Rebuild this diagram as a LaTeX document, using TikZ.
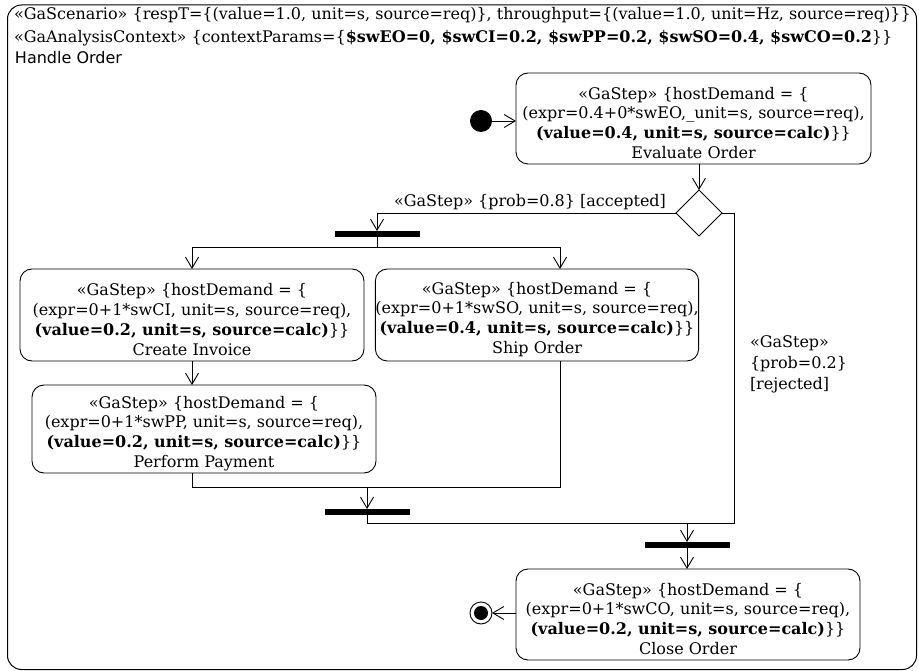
\documentclass[tikz,border=0pt]{standalone}
\usepackage{fontspec}
\setmainfont{DejaVu Serif}
\newfontfamily\hdsans{DejaVu Sans}
\usetikzlibrary{arrows.meta,shapes.geometric}
\newcommand\topgap{\rule{0pt}{21pt}}
\begin{document}
\begin{tikzpicture}[x=1pt,y=-1pt,
  every node/.style={inner sep=0pt, outer sep=0pt},
  txt/.style={font=\fontsize{16}{19.8}\selectfont},
  act/.style={draw, line width=0.9pt, rounded corners=12pt, align=center, txt},
  bar/.style={fill=black, minimum width=85pt, minimum height=6pt},
  flow/.style={line width=0.9pt, -{Straight Barb[length=11pt,width=13pt,line width=0.9pt]}},
  plain/.style={line width=0.9pt}]
\useasboundingbox (0,0) rectangle (919,671);
% frame
\draw[line width=1pt, rounded corners=14pt] (7.5,5) rectangle (916.5,669.5);
\node[txt, anchor=west] (h1) at (14,15) {«GaScenario» \{respT=\{(value=1.0, unit=s, source=req)\}, throughput=\{(value=1.0, unit=Hz, source=req)\}\}};
\node[txt, anchor=west] (h2) at (14,38) {«GaAnalysisContext» \{contextParams=\{\textbf{\$swEO=0, \$swCI=0.2, \$swPP=0.2, \$swSO=0.4, \$swCO=0.2}\}\}};
\node[anchor=west, font=\hdsans\fontsize{16}{18}\selectfont] (h3) at (15,58) {Handle Order};

% nodes
\node[circle, fill=black, minimum size=22pt] (init) at (481,121) {};
\node[act, minimum width=355pt, minimum height=91pt] (eval) at (693.5,118.5)
  {\topgap«GaStep» \{hostDemand = \{\\(expr=0.4+0*swEO,\_unit=s, source=req),\\\textbf{(value=0.4, unit=s, source=calc)}\}\}\\Evaluate Order};
\node[diamond, aspect=1, draw, line width=0.9pt, minimum size=46pt] (dec) at (699,213) {};
\node[txt, anchor=base east] (acc) at (666,207) {«GaStep» \{prob=0.8\} [accepted]};
\node[bar] (fork) at (377,234) {};
\node[act, minimum width=344pt, minimum height=92pt] (ci) at (192,315)
  {\topgap«GaStep» \{hostDemand = \{\\(expr=0+1*swCI, unit=s, source=req),\\\textbf{(value=0.2, unit=s, source=calc)}\}\}\\Create Invoice};
\node[act, minimum width=320pt, minimum height=92pt] (so) at (537,315)
  {\topgap«GaStep» \{hostDemand = \{\\(expr=0+1*swSO, unit=s, source=req),\\\textbf{(value=0.4, unit=s, source=calc)}\}\}\\Ship Order};
\node[act, minimum width=344pt, minimum height=88pt] (pp) at (204,429)
  {\topgap«GaStep» \{hostDemand = \{\\(expr=0+1*swPP, unit=s, source=req),\\\textbf{(value=0.2, unit=s, source=calc)}\}\}\\Perform Payment};
\node[bar] (join1) at (367,512) {};
\node[bar] (join2) at (687,545) {};
\node[act, minimum width=344pt, minimum height=91pt] (co) at (688,614.5)
  {\topgap«GaStep» \{hostDemand = \{\\(expr=0+1*swCO, unit=s, source=req),\\\textbf{(value=0.2, unit=s, source=calc)}\}\}\\Close Order};
\node[circle, draw, line width=0.9pt, fill=white, minimum size=22pt] (final) at (481,613) {};
\fill (final.center) circle (7pt);
\node[align=left, anchor=north west, font=\fontsize{16}{20.8}\selectfont] (rej) at (750,336) {«GaStep»\\\{prob=0.2\}\\[0pt][rejected]};

% coordinates
\coordinate (f1) at (377,247);
\coordinate (sox) at (560,247);
\coordinate (m1) at (367,487);
\coordinate (rj) at (734,523);

% connectors
\draw[flow] (init) -- (eval.west |- init);
\draw[flow] (dec.north |- eval.south) -- (dec.north);
\draw[flow] (dec.west) -| (fork.north);
\draw[plain] (fork.south) -- (f1);
\draw[flow] (f1) -| (ci.north);
\draw[flow] (f1) -- (sox) -- (sox |- so.north);
\draw[flow] (ci.south) -- (ci.south |- pp.north);
\draw[plain] (pp.south -| ci.south) |- (sox |- m1) -- (sox |- so.south);
\draw[flow] (m1) -- (join1.north);
\draw[plain] (join1.south) |- (rj) |- (dec.east);
\draw[flow] (join2.north |- rj) -- (join2.north);
\draw[flow] (join2.south) -- (join2.south |- co.north);
\draw[flow] (co.west |- final) -- (final.east);
\end{tikzpicture}
\end{document}
